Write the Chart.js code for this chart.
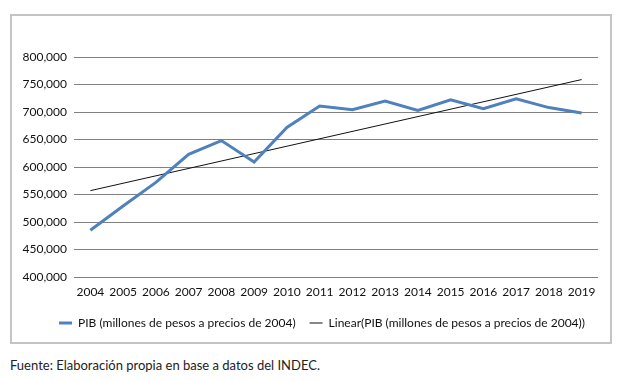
<!DOCTYPE html>
<html lang="es">
<head>
<meta charset="utf-8">
<title>PIB</title>
<script src="https://cdn.jsdelivr.net/npm/chart.js@4.4.1/dist/chart.umd.min.js"></script>
<style>
    body { margin: 0; background: #fff; width: 622px; height: 381px; position: relative; overflow: hidden; }
    #box {
        position: absolute; left: 10px; top: 14px;
        width: 598px; height: 326px;
        border: 2px solid #c4c4c4;
    }
    #src {
        position: absolute; left: 10px; top: 357px;
        font-family: Lato, sans-serif; font-size: 13px; color: #222;
    }
</style>
</head>
<body>
<div id="box"><canvas id="chart" width="598" height="326"></canvas></div>
<div id="src">Fuente: Elaboración propia en base a datos del INDEC.</div>
<script>
// Data
const years = ['2004', '2005', '2006', '2007', '2008', '2009', '2010', '2011',
               '2012', '2013', '2014', '2015', '2016', '2017', '2018', '2019'];
const pib = [485000, 529000, 572000, 623000, 648000, 609000, 672000, 711000,
             704000, 720000, 703000, 722000, 706000, 724000, 708000, 698000];
// trend line: only its two ends are read, the line spans the gap
const trend = [557000, null, null, null, null, null, null, null,
               null, null, null, null, null, null, null, 759000];
const yTicks = [400000, 450000, 500000, 550000, 600000, 650000, 700000, 750000, 800000];

const labelPib = 'PIB (millones de pesos a precios de 2004)';
const labelTrend = 'Linear(PIB (millones de pesos a precios de 2004))';

// legend in the reference sits a bit right of centre
const shiftLegend = {
    id: 'shiftLegend',
    afterLayout(chart) {
        chart.legend.left += 17;
        chart.legend.right += 17;
    }
};

const ctx = document.getElementById('chart');

new Chart(ctx, {
    type: 'line',
    data: {
        labels: years,
        datasets: [
            {
                label: labelPib,
                data: pib,
                borderColor: '#4f81bd',
                backgroundColor: '#4f81bd',
                borderWidth: 3,
                pointRadius: 0,
                tension: 0
            },
            {
                label: labelTrend,
                data: trend,
                borderColor: '#111',
                backgroundColor: '#111',
                borderWidth: 1,
                pointRadius: 0,
                spanGaps: true
            }
        ]
    },
    options: {
        responsive: false,
        animation: false,
        layout: { padding: { left: 0, top: 41, right: 12, bottom: 3 } },
        plugins: {
            tooltip: { enabled: false },
            legend: {
                position: 'bottom',
                labels: {
                    color: '#111',
                    font: { family: 'Lato', size: 12 },
                    usePointStyle: true,
                    pointStyle: 'line',
                    pointStyleWidth: 13,
                    padding: 14
                }
            }
        },
        scales: {
            x: {
                offset: true,
                afterFit: (scale) => { scale.height = 26; },
                grid: { display: false, drawTicks: false },
                border: { display: false },
                ticks: {
                    color: '#111',
                    font: { family: 'Lato', size: 12 },
                    maxRotation: 0,
                    autoSkip: false,
                    padding: 8
                }
            },
            y: {
                min: yTicks[0],
                max: yTicks[yTicks.length - 1],
                afterFit: (scale) => { scale.width = 62; },
                afterBuildTicks: (scale) => { scale.ticks = yTicks.map(v => ({ value: v })); },
                grid: { color: '#808080', lineWidth: 1, drawTicks: false },
                border: { display: false },
                ticks: {
                    color: '#111',
                    font: { family: 'Lato', size: 12 },
                    padding: 7,
                    callback: (v) => v.toLocaleString('en-US')
                }
            }
        }
    },
    plugins: [shiftLegend]
});
</script>
</body>
</html>
